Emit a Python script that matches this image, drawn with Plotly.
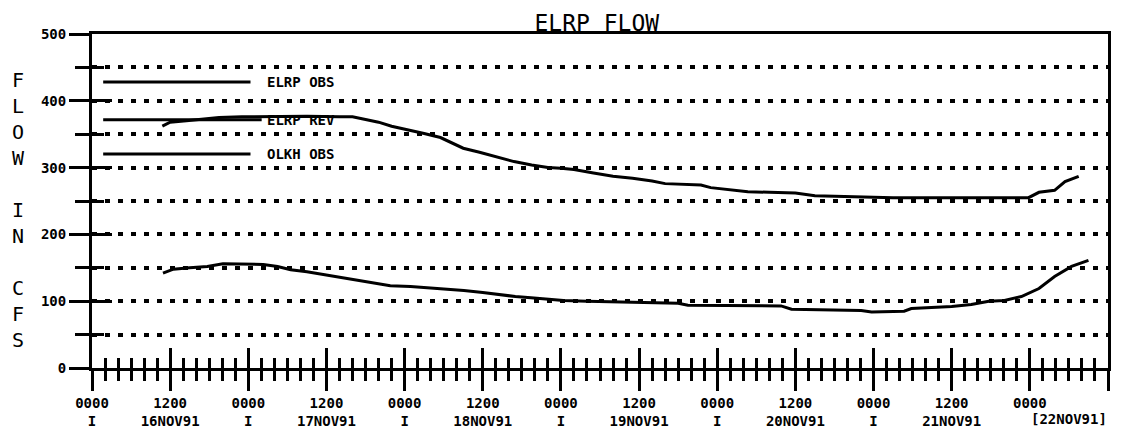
import plotly.graph_objects as go
import pandas as pd

# ---------------- data ----------------
start_time = "1991-11-16 00:00"
end_time = "1991-11-22 12:00"

series_names = ["ELRP OBS", "ELRP REV", "OLKH OBS"]

# hours after 16NOV91 0000, flow in cfs
elrp_rev_hours = [10.8, 12.0, 14.5, 17.0, 19.5, 23.0, 28.0, 33.0, 38.0, 40.0, 42.0, 44.0,
                  46.0, 48.5, 51.0, 53.5, 55.5, 57.0, 59.5, 62.0, 64.8, 67.5, 70.0, 72.0,
                  74.0, 77.0, 80.0, 83.0, 86.0, 88.0, 91.0, 93.5, 95.0, 98.0, 100.7, 104.0,
                  108.0, 111.0, 116.0, 123.0, 130.0, 137.0, 143.8, 145.4, 147.8, 149.4, 151.5]
elrp_rev_cfs = [362, 368, 370, 372, 375, 376, 377, 377, 376, 376, 372, 368,
                362, 357, 351, 345, 336, 329, 323, 316, 309, 304, 300, 299,
                297, 292, 287, 284, 280, 276, 275, 274, 270, 267, 264, 263,
                262, 258, 257, 255, 255, 255, 255, 263, 266, 279, 287]

olkh_obs_hours = [10.9, 12.5, 15.0, 17.7, 20.1, 23.0, 26.3, 28.5, 30.5, 33.0, 35.5, 38.0,
                  40.8, 43.5, 45.8, 48.9, 53.5, 57.1, 60.0, 62.3, 65.0, 67.4, 70.0, 72.4,
                  76.0, 80.1, 85.0, 90.0, 91.5, 96.0, 101.0, 105.8, 107.4, 112.0, 118.1, 119.7,
                  124.7, 125.8, 129.0, 132.0, 135.0, 137.7, 140.1, 142.7, 145.4, 147.8, 150.4, 153.0]
olkh_obs_cfs = [142, 148, 150, 152, 156, 156, 155, 152, 147, 144, 140, 136,
                132, 127, 123, 122, 119, 116, 113, 110, 107, 105, 103, 101,
                100, 99, 98, 97, 94, 94, 93, 93, 88, 87, 86, 84,
                85, 89, 90, 92, 95, 100, 101, 107, 119, 137, 152, 161]

tick_hours = [0, 12, 24, 36, 48, 60, 72, 84, 96, 108, 120, 132, 144, 156]
tick_top = ["0000", "1200", "0000", "1200", "0000", "1200", "0000", "1200",
            "0000", "1200", "0000", "1200", "0000", "1200"]
tick_bottom = ["I", "16NOV91", "I", "17NOV91", "I", "18NOV91", "I", "19NOV91",
               "I", "20NOV91", "I", "21NOV91", "", ""]
last_day_label = "[22NOV91]"
last_day_label_hour = 150

y_ticks = [0, 100, 200, 300, 400, 500]

# ---------------- helpers ----------------
t0 = pd.Timestamp(start_time)


def to_time(hours):
    return [t0 + pd.Timedelta(hours=h) for h in hours]


tickvals = to_time(tick_hours)
ticktext = [a + "<br>" + b for a, b in zip(tick_top, tick_bottom)]

BLACK = "#000000"
MONO = "DejaVu Sans Mono"
GRID_DASH = "5px,8px"

fig = go.Figure()

fig.add_trace(go.Scatter(x=to_time(elrp_rev_hours), y=elrp_rev_cfs, mode="lines",
                         name=series_names[1], line=dict(color=BLACK, width=3),
                         showlegend=False))
fig.add_trace(go.Scatter(x=to_time(olkh_obs_hours), y=olkh_obs_cfs, mode="lines",
                         name=series_names[2], line=dict(color=BLACK, width=3),
                         showlegend=False))
# helper trace so the overlay axes (inner tick halves) are drawn
fig.add_trace(go.Scatter(x=[t0], y=[0], xaxis="x2", yaxis="y2", mode="markers",
                         marker=dict(opacity=0), showlegend=False, hoverinfo="skip"))

xrange = [pd.Timestamp(start_time), pd.Timestamp(end_time)]

# page adds an 8px body margin around the figure
fig.update_layout(
    width=1113, height=425,
    margin=dict(l=84, r=13, t=26, b=65),
    paper_bgcolor="white", plot_bgcolor="white",
    title=dict(text="ELRP FLOW", x=0.529, xanchor="center", y=0.966, yanchor="middle",
               xref="container", yref="container",
               font=dict(family=MONO, size=23, color=BLACK)),
    xaxis=dict(type="date", range=xrange, tickmode="array", tickvals=tickvals,
               ticktext=ticktext, ticks="outside", ticklen=20, tickwidth=3,
               tickcolor=BLACK, showgrid=False, zeroline=False, automargin=False,
               showline=True, linewidth=3, linecolor=BLACK, mirror=True,
               tickfont=dict(family=MONO, size=14, color=BLACK, weight="bold"),
               minor=dict(tickmode="linear", tick0=start_time, dtick=2 * 3600 * 1000,
                          ticks="outside", ticklen=10, tickwidth=3, tickcolor=BLACK,
                          showgrid=False)),
    xaxis2=dict(type="date", range=xrange, overlaying="x", anchor="y", side="bottom",
                tickmode="array", tickvals=tickvals, ticks="inside", ticklen=20,
                tickwidth=3, tickcolor=BLACK, showticklabels=False, showgrid=False,
                zeroline=False, showline=False, automargin=False,
                minor=dict(tickmode="linear", tick0=start_time, dtick=2 * 3600 * 1000,
                           ticks="inside", ticklen=10, tickwidth=3, tickcolor=BLACK,
                           showgrid=False)),
    yaxis=dict(range=[0, 500], tickmode="array", tickvals=y_ticks,
               ticks="outside", ticklen=20, tickwidth=3, tickcolor=BLACK,
               showgrid=True, gridcolor=BLACK, gridwidth=4, griddash=GRID_DASH,
               zeroline=False, showline=True, linewidth=3, linecolor=BLACK, mirror=True,
               automargin=False,
               tickfont=dict(family=MONO, size=14, color=BLACK, weight="bold"),
               minor=dict(tickmode="linear", tick0=0, dtick=50, ticks="outside",
                          ticklen=14, tickwidth=3, tickcolor=BLACK, showgrid=True,
                          gridcolor=BLACK, gridwidth=4, griddash=GRID_DASH)),
    yaxis2=dict(range=[0, 500], overlaying="y", anchor="x", side="left",
                tickmode="array", tickvals=y_ticks, ticks="inside", ticklen=20,
                tickwidth=3, tickcolor=BLACK, showticklabels=False, showgrid=False,
                zeroline=False, showline=False, automargin=False,
                minor=dict(tickmode="linear", tick0=0, dtick=50, ticks="inside",
                           ticklen=12, tickwidth=3, tickcolor=BLACK, showgrid=False)),
    showlegend=False,
)

# y-axis title, stacked letters
fig.add_annotation(text="F<br>L<br>O<br>W<br> <br>I<br>N<br> <br>C<br>F<br>S",
                   xref="paper", yref="paper", x=-0.072, y=0.473,
                   xanchor="center", yanchor="middle", showarrow=False,
                   font=dict(family=MONO, size=20, color=BLACK))

# last-day label under the final half day
fig.add_annotation(text=last_day_label, xref="x", yref="paper",
                   x=t0 + pd.Timedelta(hours=last_day_label_hour), y=-0.153,
                   xanchor="center", yanchor="middle", showarrow=False,
                   font=dict(family=MONO, size=14, color=BLACK, weight="bold"))

# hand-drawn style legend inside the plot
legend_y = [0.856, 0.743, 0.641]
legend_x1 = [0.156, 0.167, 0.156]
for name, ly, lx1 in zip(series_names, legend_y, legend_x1):
    fig.add_shape(type="line", xref="paper", yref="paper", x0=0.011, x1=lx1,
                  y0=ly, y1=ly, line=dict(color=BLACK, width=3))
    fig.add_annotation(text=name, xref="paper", yref="paper", x=0.170, y=ly,
                       xanchor="left", yanchor="middle", showarrow=False,
                       font=dict(family=MONO, size=14, color=BLACK, weight="bold"))

fig.write_html("out.html")
